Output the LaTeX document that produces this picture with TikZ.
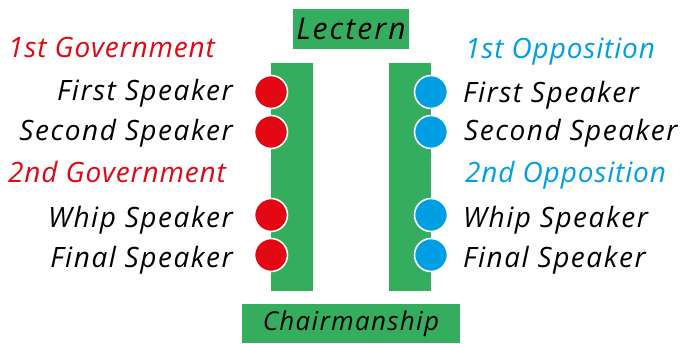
\documentclass[tikz,border=0pt]{standalone}
\usepackage{fontspec}
\setmainfont{Open Sans}
\definecolor{benchgreen}{RGB}{52,173,94}
\definecolor{govred}{RGB}{227,6,19}
\definecolor{oppblue}{RGB}{0,159,227}
\tikzset{
  bench/.style={fill=benchgreen, draw=none},
  seatgov/.style={circle, fill=govred, draw=white, line width=1.6pt, minimum size=33pt, inner sep=0pt},
  seatopp/.style={circle, fill=oppblue, draw=white, line width=1.6pt, minimum size=33pt, inner sep=0pt},
  lbl/.style={inner sep=0pt, font=\fontsize{28}{31}\selectfont\itshape\addfontfeatures{LetterSpace=5.5}},
  govhead/.style={inner sep=0pt, text=govred, font=\fontsize{28}{31}\selectfont\itshape\addfontfeatures{LetterSpace=3}},
  opphead/.style={govhead, text=oppblue},
  boxlbl/.style={inner sep=0pt, font=\fontsize{30}{33}\selectfont\itshape\addfontfeatures{LetterSpace=7}},
  chairlbl/.style={inner sep=0pt, font=\fontsize{26}{29}\selectfont\itshape\addfontfeatures{LetterSpace=5}},
}
\begin{document}
\begin{tikzpicture}[x=1pt, y=-1pt]
  \useasboundingbox (0,0) rectangle (687,343);
  % podium and chair
  \fill[bench] (293,9) rectangle (409,49);
  \node[boxlbl, anchor=base] (lectern) at (351,39) {Lectern};
  \fill[bench] (242,304) rectangle (460,343);
  \node[chairlbl, anchor=base] (chair) at (351,330) {Chairmanship};
  % benches
  \fill[bench] (271,63) rectangle (313,291);
  \fill[bench] (389,63) rectangle (431,291);
  % government seats
  \node[seatgov] (g1) at (271,92) {};
  \node[seatgov] (g2) at (271,132) {};
  \node[seatgov] (g3) at (271,215) {};
  \node[seatgov] (g4) at (271,255) {};
  % opposition seats
  \node[seatopp] (o1) at (431,92) {};
  \node[seatopp] (o2) at (431,132) {};
  \node[seatopp] (o3) at (431,215) {};
  \node[seatopp] (o4) at (431,255) {};
  % government labels
  \node[govhead, anchor=base west] (gh1) at (8,57) {1st Government};
  \node[lbl, anchor=base east] (gt1) at (233,100) {First Speaker};
  \node[lbl, anchor=base east] (gt2) at (233,140) {Second Speaker};
  \node[govhead, anchor=base west] (gh2) at (8,182) {2nd Government};
  \node[lbl, anchor=base east] (gt3) at (233,227) {Whip Speaker};
  \node[lbl, anchor=base east] (gt4) at (233,267) {Final Speaker};
  % opposition labels
  \node[opphead, anchor=base west] (oh1) at (465,58) {1st Opposition};
  \node[lbl, anchor=base west] (ot1) at (463,102) {First Speaker};
  \node[lbl, anchor=base west] (ot2) at (464,140) {Second Speaker};
  \node[opphead, anchor=base west] (oh2) at (465,182) {2nd Opposition};
  \node[lbl, anchor=base west] (ot3) at (463,227) {Whip Speaker};
  \node[lbl, anchor=base west] (ot4) at (463,267) {Final Speaker};
\end{tikzpicture}
\end{document}
